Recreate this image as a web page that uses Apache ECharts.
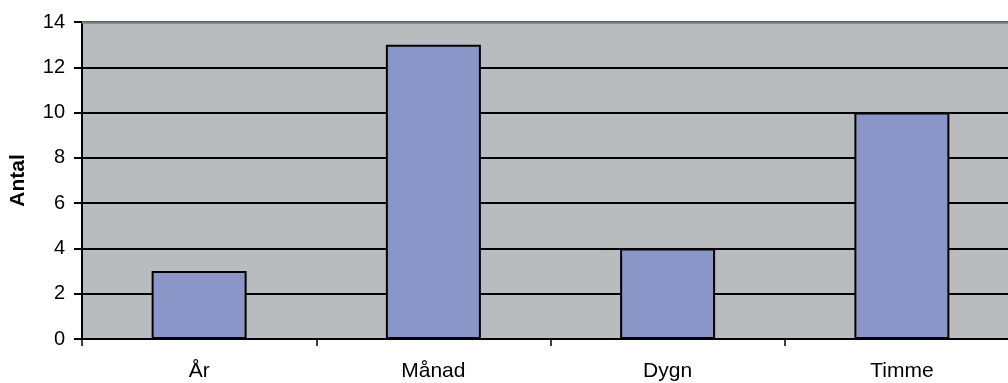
<!DOCTYPE html>
<html>
<head>
<meta charset="utf-8">
<script src="https://cdn.jsdelivr.net/npm/echarts@6/dist/echarts.min.js"></script>
<style>
  html, body { margin: 0; padding: 0; background: #ffffff; overflow: hidden; }
  /* the plot runs a little past the right edge of the page */
  #chart { width: 1019px; height: 383px; }
</style>
</head>
<body>
<div id="chart"></div>
<script>
// Antal per intervall
const categories = ['År', 'Månad', 'Dygn', 'Timme'];
const counts = [3, 13, 4, 10];
const yTicks = { min: 0, max: 14, interval: 2 };

const chart = echarts.init(document.getElementById('chart'), null, { renderer: 'canvas' });
const font = 'Liberation Sans, Arial, sans-serif';

chart.setOption({
  animation: false,
  backgroundColor: '#ffffff',
  grid: {
    left: 81, right: 0, top: 22, bottom: 44,
    show: true,
    backgroundColor: '#b9bcbe',
    borderWidth: 0
  },
  xAxis: {
    type: 'category',
    data: categories,
    axisLine: { show: true, lineStyle: { color: '#000000', width: 2 } },
    axisTick: { show: true, length: 7, lineStyle: { color: '#000000', width: 1.5 } },
    axisLabel: { color: '#000000', fontFamily: font, fontSize: 21, margin: 22 },
    splitLine: { show: false }
  },
  yAxis: {
    type: 'value',
    min: yTicks.min, max: yTicks.max, interval: yTicks.interval,
    name: 'Antal',
    nameLocation: 'middle',
    nameGap: 53,
    nameRotate: 90,
    nameTextStyle: { color: '#000000', fontFamily: font, fontSize: 21, fontWeight: 'bold' },
    axisLine: { show: true, lineStyle: { color: '#000000', width: 2 } },
    axisTick: { show: true, length: 8, lineStyle: { color: '#000000', width: 2 } },
    axisLabel: { color: '#000000', fontFamily: font, fontSize: 20, margin: 17 },
    splitLine: { show: true, lineStyle: { color: '#000000', width: 2 } }
  },
  series: [{
    type: 'bar',
    data: counts,
    barWidth: 95,
    itemStyle: { color: '#8a96c8', borderColor: '#000000', borderWidth: 2 },
    markLine: {
      silent: true,
      symbol: 'none',
      label: { show: false },
      lineStyle: { color: '#7a8080', width: 2.5, type: 'solid' },
      data: [{ yAxis: yTicks.max }]
    }
  }]
});
</script>
</body>
</html>
